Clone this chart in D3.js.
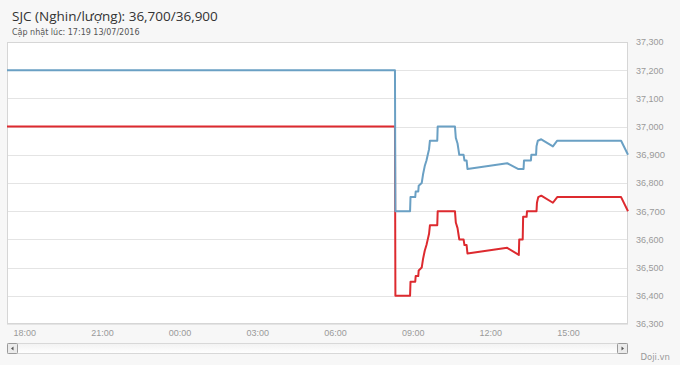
<!DOCTYPE html>
<html>
<head>
<meta charset="utf-8">
<script src="https://cdn.jsdelivr.net/npm/d3@7"></script>
<style>
  body { margin: 0; background: #f7f7f7; font-family: "DejaVu Sans", "Open Sans", sans-serif; }
  .axis text { fill: #9a9a9a; font-size: 9px; }
  .axis path, .axis line { display: none; }
</style>
</head>
<body>
<div id="chart"></div>
<script>
// Chart data
const title = "SJC (Nghin/lượng): 36,700/36,900";
const subtitle = "Cập nhật lúc: 17:19 13/07/2016";
const currentBuy = 36700;
const currentSell = 36900;

const sellTimes = ["2016-07-12 17:20", "2016-07-13 08:19", "2016-07-13 08:20", "2016-07-13 08:54",
  "2016-07-13 08:55", "2016-07-13 09:06", "2016-07-13 09:07", "2016-07-13 09:13", "2016-07-13 09:14",
  "2016-07-13 09:21", "2016-07-13 09:24", "2016-07-13 09:28", "2016-07-13 09:32", "2016-07-13 09:35",
  "2016-07-13 09:38", "2016-07-13 09:40", "2016-07-13 09:57", "2016-07-13 09:58", "2016-07-13 10:38",
  "2016-07-13 10:40", "2016-07-13 10:44", "2016-07-13 10:46", "2016-07-13 10:48", "2016-07-13 10:58",
  "2016-07-13 11:00", "2016-07-13 11:05", "2016-07-13 11:07", "2016-07-13 12:39", "2016-07-13 13:04",
  "2016-07-13 13:17", "2016-07-13 13:18", "2016-07-13 13:34", "2016-07-13 13:35", "2016-07-13 13:46",
  "2016-07-13 13:47", "2016-07-13 13:50", "2016-07-13 13:58", "2016-07-13 14:25", "2016-07-13 14:35",
  "2016-07-13 17:03", "2016-07-13 17:19"];
const sellValues = [37200, 37200, 36700, 36700,
  36750, 36750, 36770, 36770, 36790,
  36800, 36830, 36860, 36880, 36900,
  36920, 36950, 36950, 37000, 37000,
  36960, 36940, 36920, 36900, 36900,
  36880, 36880, 36850, 36870, 36850,
  36850, 36880, 36880, 36900, 36900,
  36930, 36950, 36955, 36930, 36950,
  36950, 36900];

const buyTimes = ["2016-07-12 17:20", "2016-07-13 08:19", "2016-07-13 08:20", "2016-07-13 08:54",
  "2016-07-13 08:55", "2016-07-13 09:06", "2016-07-13 09:07", "2016-07-13 09:13", "2016-07-13 09:14",
  "2016-07-13 09:21", "2016-07-13 09:24", "2016-07-13 09:28", "2016-07-13 09:32", "2016-07-13 09:35",
  "2016-07-13 09:38", "2016-07-13 09:40", "2016-07-13 09:57", "2016-07-13 09:58", "2016-07-13 10:38",
  "2016-07-13 10:40", "2016-07-13 10:44", "2016-07-13 10:46", "2016-07-13 10:48", "2016-07-13 10:58",
  "2016-07-13 11:00", "2016-07-13 11:05", "2016-07-13 11:07", "2016-07-13 12:39", "2016-07-13 13:06",
  "2016-07-13 13:07", "2016-07-13 13:15", "2016-07-13 13:16", "2016-07-13 13:24", "2016-07-13 13:25",
  "2016-07-13 13:47", "2016-07-13 13:48", "2016-07-13 13:51", "2016-07-13 13:58", "2016-07-13 14:25",
  "2016-07-13 14:35", "2016-07-13 17:03", "2016-07-13 17:19"];
const buyValues = [37000, 37000, 36400, 36400,
  36450, 36450, 36470, 36470, 36490,
  36500, 36530, 36560, 36580, 36600,
  36620, 36650, 36650, 36700, 36700,
  36660, 36640, 36620, 36600, 36600,
  36580, 36580, 36550, 36570, 36545,
  36600, 36600, 36680, 36680, 36700,
  36700, 36730, 36750, 36755, 36730,
  36750, 36750, 36700];

const xTicks = ["2016-07-12 18:00", "2016-07-12 21:00", "2016-07-13 00:00", "2016-07-13 03:00",
  "2016-07-13 06:00", "2016-07-13 09:00", "2016-07-13 12:00", "2016-07-13 15:00"];
const yTicks = [36300, 36400, 36500, 36600, 36700, 36800, 36900, 37000, 37100, 37200, 37300];
const xDomain = ["2016-07-12 17:20", "2016-07-13 17:19"];

// Layout
const width = 680;
const height = 365;
const plot = { left: 7, right: 628, top: 42, bottom: 324 };

const parse = d3.timeParse("%Y-%m-%d %H:%M");
const fmtNum = d3.format(",");

const svg = d3.select("#chart")
  .append("svg")
  .attr("width", width)
  .attr("height", height);

svg.append("rect")
  .attr("width", width)
  .attr("height", height)
  .attr("fill", "#f7f7f7");

// Header
svg.append("text")
  .attr("x", 12)
  .attr("y", 21)
  .attr("fill", "#333")
  .style("font-family", "'Open Sans', sans-serif")
  .style("font-size", "13.5px")
  .text(title);

svg.append("text")
  .attr("x", 12)
  .attr("y", 35)
  .attr("fill", "#555")
  .style("font-size", "8px")
  .text(subtitle);

// Scales
const x = d3.scaleTime()
  .domain(xDomain.map(parse))
  .range([plot.left, plot.right]);

const y = d3.scaleLinear()
  .domain([d3.min(yTicks), d3.max(yTicks)])
  .range([plot.bottom, plot.top]);

// Plot background
svg.append("rect")
  .attr("x", plot.left)
  .attr("y", plot.top)
  .attr("width", plot.right - plot.left)
  .attr("height", plot.bottom - plot.top)
  .attr("fill", "#fff");

// Grid lines
svg.append("g")
  .selectAll("line")
  .data(yTicks)
  .join("line")
  .attr("x1", plot.left)
  .attr("x2", plot.right)
  .attr("y1", d => Math.round(y(d)) + 0.5)
  .attr("y2", d => Math.round(y(d)) + 0.5)
  .attr("stroke", "#e4e4e4");

// Frame
svg.append("rect")
  .attr("x", plot.left + 0.5)
  .attr("y", plot.top + 0.5)
  .attr("width", plot.right - plot.left - 1)
  .attr("height", plot.bottom - plot.top - 1)
  .attr("fill", "none")
  .attr("stroke", "#d6d6d6");

// Lines
const line = d3.line()
  .x(d => x(d[0]))
  .y(d => y(d[1]));

const sell = sellTimes.map((t, i) => [parse(t), sellValues[i]]);
const buy = buyTimes.map((t, i) => [parse(t), buyValues[i]]);

svg.append("path")
  .datum(buy)
  .attr("fill", "none")
  .attr("stroke", "#dd2a2f")
  .attr("stroke-width", 2)
  .attr("stroke-linejoin", "round")
  .attr("d", line);

svg.append("path")
  .datum(sell)
  .attr("fill", "none")
  .attr("stroke", "#6aa0c4")
  .attr("stroke-width", 2)
  .attr("stroke-linejoin", "round")
  .attr("d", line);

// Right axis
const yAxis = svg.append("g")
  .attr("class", "axis")
  .attr("transform", `translate(${plot.right + 8},0)`)
  .call(d3.axisRight(y).tickValues(yTicks).tickSize(0).tickPadding(0).tickFormat(fmtNum));

yAxis.selectAll(".tick text")
  .filter(d => d === currentBuy || d === currentSell)
  .attr("fill", "#333")
  .style("font-size", "9.5px");

// Bottom axis
svg.append("g")
  .attr("class", "axis")
  .attr("transform", `translate(0,${plot.bottom + 3})`)
  .call(d3.axisBottom(x).tickValues(xTicks.map(parse)).tickSize(0).tickPadding(3)
    .tickFormat(d3.timeFormat("%H:%M")));

// Scrollbar
const sb = svg.append("g").attr("transform", "translate(0,343)");
const grad = svg.append("defs").append("linearGradient")
  .attr("id", "track")
  .attr("x1", 0).attr("x2", 0).attr("y1", 0).attr("y2", 1);
grad.append("stop").attr("offset", "0%").attr("stop-color", "#f2f2f2");
grad.append("stop").attr("offset", "100%").attr("stop-color", "#ffffff");

sb.append("rect")
  .attr("x", plot.left + 0.5)
  .attr("y", 0.5)
  .attr("width", plot.right - plot.left - 1)
  .attr("height", 10)
  .attr("fill", "url(#track)")
  .attr("stroke", "#d8d8d8");

[plot.left, plot.right - 11].forEach((bx, i) => {
  sb.append("rect")
    .attr("x", bx + 0.5)
    .attr("y", 0.5)
    .attr("width", 10)
    .attr("height", 10)
    .attr("rx", 1)
    .attr("fill", "#ebebeb")
    .attr("stroke", "#9a9a9a");
  const cx = bx + 5.5;
  sb.append("path")
    .attr("d", i === 0
      ? `M${cx + 1},3.5 L${cx - 1.5},5.5 L${cx + 1},7.5 Z`
      : `M${cx - 1},3.5 L${cx + 1.5},5.5 L${cx - 1},7.5 Z`)
    .attr("fill", "#555");
});

// Credit
svg.append("text")
  .attr("x", 670)
  .attr("y", 360)
  .attr("text-anchor", "end")
  .attr("fill", "#9a9a9a")
  .style("font-size", "8.5px")
  .text("Doji.vn");
</script>
</body>
</html>
